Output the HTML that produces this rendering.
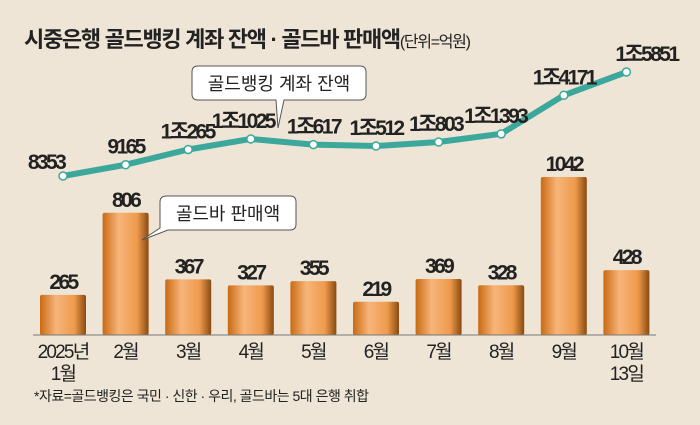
<!DOCTYPE html>
<html><head><meta charset="utf-8">
<style>
body{margin:0;background:#efe5d6;}
svg{display:block;font-family:"Liberation Sans","Noto Sans CJK KR",sans-serif;}
.v{font-weight:bold;font-size:21px;fill:#222;letter-spacing:-2.6px;text-anchor:middle;}
.x{font-size:19px;fill:#222;text-anchor:middle;letter-spacing:-1.8px;}
</style></head><body>
<svg id="c" width="700" height="425" viewBox="0 0 700 425">
<defs>
<linearGradient id="bg" x1="0" x2="1" y1="0" y2="0">
<stop offset="0" stop-color="#c96a12"/><stop offset="0.35" stop-color="#f7b57a"/><stop offset="0.75" stop-color="#ee9a4c"/><stop offset="1" stop-color="#8a4a10"/>
</linearGradient>
</defs>
<rect width="700" height="425" fill="#efe5d6"/>
<text x="24" y="47" font-size="22" font-weight="bold" fill="#222" letter-spacing="-1.3">시중은행 골드뱅킹 계좌 잔액 · 골드바 판매액<tspan font-weight="normal" font-size="16">(단위=억원)</tspan></text>
<g id="bars"></g>
<line x1="33" x2="656" y1="335" y2="335" stroke="#777" stroke-width="1"/>
<g id="line"></g>
<g id="xl"></g>
<g>
<path d="M198,66 H360 Q366,66 366,72 V94 Q366,100 360,100 H284 L278,128 L276,100 H198 Q192,100 192,94 V72 Q192,66 198,66 Z" fill="#fff" stroke="#555" stroke-width="1"/>
<text x="279" y="90" font-size="18" fill="#222" text-anchor="middle">골드뱅킹 계좌 잔액</text>
</g>
<g>
<path d="M167,196 H290 Q296,196 296,202 V224 Q296,230 290,230 H168 L142,240 L160,228 Q160,226 160,222 V202 Q160,196 167,196 Z" fill="#fff" stroke="#555" stroke-width="1"/>
<text x="228" y="220" font-size="18" fill="#222" text-anchor="middle">골드바 판매액</text>
</g>
<text x="34" y="401" font-size="14" fill="#222" letter-spacing="-0.5">*자료=골드뱅킹은 국민 · 신한 · 우리, 골드바는 5대 은행 취합</text>
</svg>
<script>
const months=["2025년|1월","2월","3월","4월","5월","6월","7월","8월","9월","10월|13일"];
const sales=[265,806,367,327,355,219,369,328,1042,428];
const balance=[8353,9165,10265,11025,10617,10512,10803,11393,14171,15851];
const balanceLabels=["8353","9165","1조265","1조1025","1조617","1조512","1조803","1조1393","1조4171","1조5851"];
const NS="http://www.w3.org/2000/svg";
const xc=i=>63+i*62.6;
const yBar=v=>335-v*0.1516;
const yLine=v=>176-(v-8353)*0.01387;
function mk(t,a,p){const e=document.createElementNS(NS,t);for(const k in a)e.setAttribute(k,a[k]);p.appendChild(e);return e;}
const gb=document.getElementById('bars'),gl=document.getElementById('line'),gx=document.getElementById('xl');
sales.forEach((v,i)=>{
 const r=mk('rect',{x:xc(i)-23,y:yBar(v),width:46,height:335-yBar(v),fill:'url(#bg)',rx:2},gb);
 
 
 const t=mk('text',{x:xc(i),y:yBar(v)-6,class:'v'},gb);t.textContent=v;
 
 
});
const pts=balance.map((v,i)=>xc(i)+','+yLine(v)).join(' ');
const pl=mk('polyline',{points:pts,fill:'none',stroke:'#3ba89b','stroke-width':6,'stroke-linejoin':'round'},gl);


const offs=[-17,0,-1,-8,0,0,-3,-6,0,20];
balance.forEach((v,i)=>{
 const c=mk('circle',{cx:xc(i),cy:yLine(v),r:4,fill:'#fff',stroke:'#3ba89b','stroke-width':1.5},gl);
 
 
 const t=mk('text',{x:xc(i)+offs[i],y:yLine(v)-(i==0?7:11),class:'v'},gl);t.textContent=balanceLabels[i];
 
 
});
months.forEach((m,i)=>{
 m.split('|').forEach((s,j)=>{
  const t=mk('text',{x:xc(i),y:358+j*22,class:'x'},gx);t.textContent=s;
  
  
 });
});
</script>
</body></html>
